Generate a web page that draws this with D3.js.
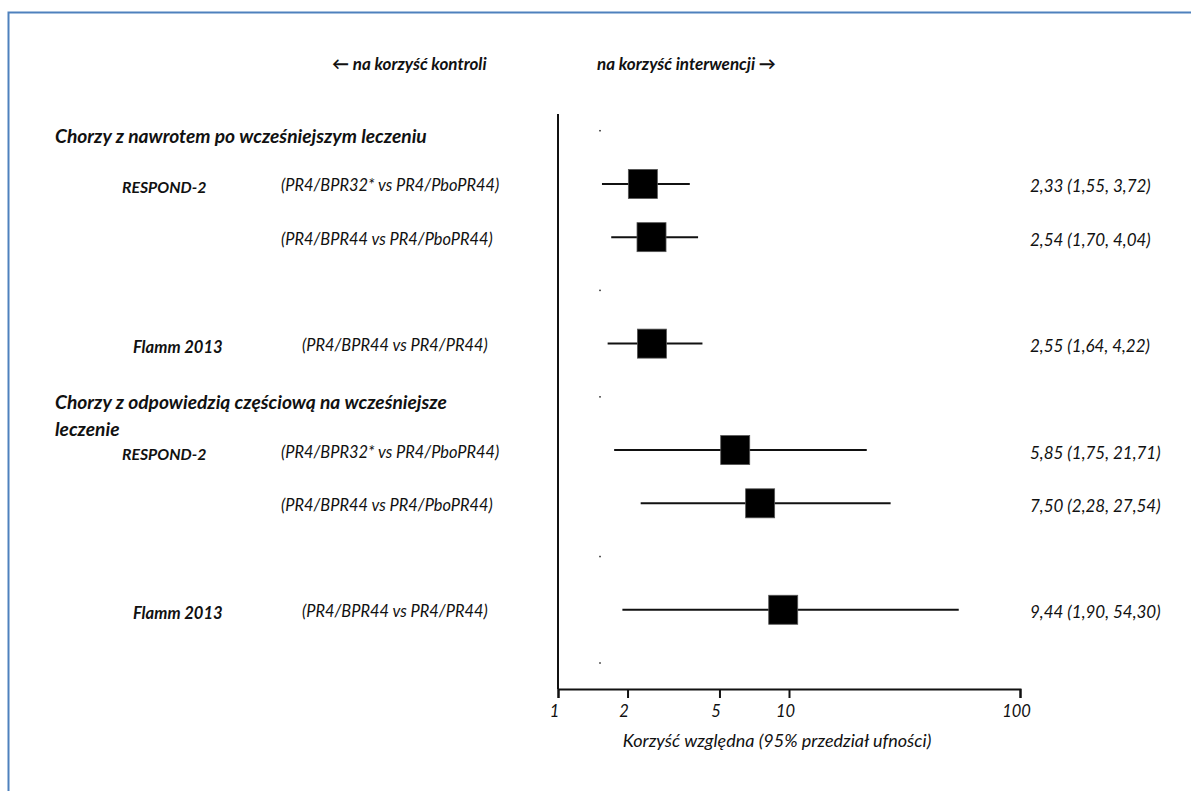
<!DOCTYPE html>
<html lang="pl">
<head>
<meta charset="utf-8">
<title>Korzyść względna – forest plot</title>
<script src="https://cdn.jsdelivr.net/npm/d3@7/dist/d3.min.js"></script>
<style>
  html, body { margin: 0; padding: 0; background: #fff; }
  svg { display: block; }
  text { font-family: Lato, "Open Sans", "DejaVu Sans", sans-serif; fill: #111; }
</style>
</head>
<body>
<svg id="chart" width="1191" height="791"></svg>
<script>
// ---- data ----
const studies     = ["RESPOND-2", "", "Flamm 2013", "RESPOND-2", "", "Flamm 2013"];
const comparisons = [
  "(PR4/BPR32* vs PR4/PboPR44)",
  "(PR4/BPR44 vs PR4/PboPR44)",
  "(PR4/BPR44 vs PR4/PR44)",
  "(PR4/BPR32* vs PR4/PboPR44)",
  "(PR4/BPR44 vs PR4/PboPR44)",
  "(PR4/BPR44 vs PR4/PR44)"
];
const estimates   = [2.33, 2.54, 2.55, 5.85, 7.50, 9.44];
const lowerCI     = [1.55, 1.70, 1.64, 1.75, 2.28, 1.90];
const upperCI     = [3.72, 4.04, 4.22, 21.71, 27.54, 54.30];
const effectLabels = [
  "2,33 (1,55, 3,72)",
  "2,54 (1,70, 4,04)",
  "2,55 (1,64, 4,22)",
  "5,85 (1,75, 21,71)",
  "7,50 (2,28, 27,54)",
  "9,44 (1,90, 54,30)"
];
// row slot of each study line, and of the empty (header / spacer) slots
const studySlots  = [1, 2, 4, 6, 7, 9];
const emptySlots  = [0, 3, 5, 8, 10];
const emptyMarkerValue = 1.52;
const sectionTitles = [
  { slot: 0, lines: ["Chorzy z nawrotem po wcześniejszym leczeniu"] },
  { slot: 5, lines: ["Chorzy z odpowiedzią częściową na wcześniejsze", "leczenie"] }
];
const tickValues = [1, 2, 5, 10, 100];
const axisTitle = "Korzyść względna (95% przedział ufności)";
const leftHeader = "← na korzyść kontroli";
const rightHeader = "na korzyść interwencji →";

// ---- layout ----
const svg = d3.select("#chart");
const W = 1191, H = 791;
svg.append("rect").attr("width", W).attr("height", H).attr("fill", "#fff");

// frame (left and top edges)
svg.append("path")
  .attr("d", `M8.5,${H} L8.5,12.5 L${W},12.5`)
  .attr("fill", "none")
  .attr("stroke", "#4F81BD")
  .attr("stroke-width", 2);

const x = d3.scaleLog().domain([1, 100]).range([558, 1020]);
const y = d3.scaleLinear().domain([0, 10]).range([130.7, 663]);
const axisY = 689;
const boxSize = 29;

// top direction labels
svg.append("text")
  .attr("x", 332).attr("y", 63)
  .attr("dominant-baseline", "central")
  .attr("font-size", 17).attr("font-style", "italic").attr("font-weight", 700)
  .text(leftHeader);
svg.append("text")
  .attr("x", 597).attr("y", 63)
  .attr("dominant-baseline", "central")
  .attr("font-size", 17).attr("font-style", "italic").attr("font-weight", 700)
  .text(rightHeader);

// section titles
sectionTitles.forEach(s => {
  s.lines.forEach((line, i) => {
    svg.append("text")
      .attr("x", 55)
      .attr("y", y(s.slot) + 5 + i * 27)
      .attr("dominant-baseline", "central")
      .attr("font-size", 19.2).attr("font-style", "italic").attr("font-weight", 700)
      .text(line);
  });
});

// vertical line of no effect
svg.append("line")
  .attr("x1", x(1)).attr("x2", x(1))
  .attr("y1", 114).attr("y2", axisY)
  .attr("stroke", "#111").attr("stroke-width", 2);

// x axis
const axis = svg.append("g")
  .attr("transform", `translate(0,${axisY})`)
  .call(d3.axisBottom(x).tickValues(tickValues).tickFormat(d3.format("d")).tickSize(9).tickSizeOuter(9));
axis.select(".domain").attr("stroke", "#111").attr("stroke-width", 2);
axis.selectAll(".tick line").attr("stroke", "#111").attr("stroke-width", 2);
axis.selectAll(".tick text")
  .attr("y", 16)
  .attr("font-family", "Lato, 'Open Sans', sans-serif")
  .attr("font-size", 16.5).attr("font-style", "italic")
  .attr("fill", "#111")
  .attr("dx", -4);

svg.append("text")
  .attr("x", 777).attr("y", 740)
  .attr("text-anchor", "middle").attr("dominant-baseline", "central")
  .attr("font-size", 18).attr("font-style", "italic")
  .text(axisTitle);

// tiny markers on empty rows
svg.selectAll("rect.empty")
  .data(emptySlots)
  .join("rect")
  .attr("class", "empty")
  .attr("x", x(emptyMarkerValue) - 0.75)
  .attr("y", d => y(d) - 0.75)
  .attr("width", 1.5).attr("height", 1.5)
  .attr("fill", "#222");

// study rows
const rows = studies.map((s, i) => ({
  study: s, comp: comparisons[i], est: estimates[i],
  lo: lowerCI[i], hi: upperCI[i], label: effectLabels[i], slot: studySlots[i]
}));

const g = svg.selectAll("g.row").data(rows).join("g").attr("class", "row");

g.append("line")
  .attr("x1", d => x(d.lo)).attr("x2", d => x(d.hi))
  .attr("y1", d => y(d.slot)).attr("y2", d => y(d.slot))
  .attr("stroke", "#111").attr("stroke-width", 2);

g.append("rect")
  .attr("x", d => x(d.est) - boxSize / 2)
  .attr("y", d => y(d.slot) - boxSize / 2)
  .attr("width", boxSize).attr("height", boxSize)
  .attr("fill", "#000")
  .attr("stroke", "#555").attr("stroke-width", 0.8);

g.append("text")
  .attr("x", d => d.study === "Flamm 2013" ? 133 : 122)
  .attr("y", d => y(d.slot) + 3)
  .attr("dominant-baseline", "central")
  .attr("font-size", d => d.study === "Flamm 2013" ? 16.6 : 15.8)
  .attr("font-style", "italic").attr("font-weight", 700)
  .text(d => d.study);

g.append("text")
  .attr("x", d => d.comp === "(PR4/BPR44 vs PR4/PR44)" ? 302 : 281)
  .attr("y", d => y(d.slot) + 1)
  .attr("dominant-baseline", "central")
  .attr("font-size", 16.4).attr("font-style", "italic")
  .text(d => d.comp);

g.append("text")
  .attr("x", 1030)
  .attr("y", d => y(d.slot) + 2)
  .attr("dominant-baseline", "central")
  .attr("font-size", 17).attr("font-style", "italic")
  .text(d => d.label);
</script>
</body>
</html>
